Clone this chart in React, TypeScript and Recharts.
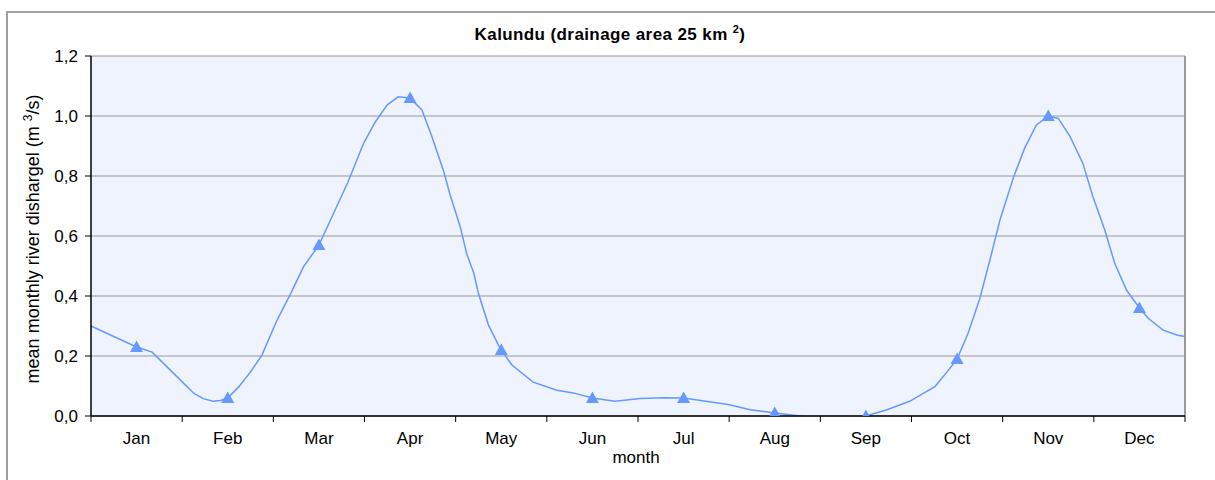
import React from "react";
import {
  ComposedChart,
  Line,
  Scatter,
  XAxis,
  YAxis,
  CartesianGrid,
  ReferenceLine,
} from "recharts";

// month labels and mean monthly discharge (m3/s) at mid-month
const months = ["Jan", "Feb", "Mar", "Apr", "May", "Jun", "Jul", "Aug", "Sep", "Oct", "Nov", "Dec"];
const monthlyMean = [0.23, 0.06, 0.57, 1.06, 0.22, 0.06, 0.06, 0.01, 0.0, 0.19, 1.0, 0.36];

// smoothed hydrograph, x in months from 1 Jan
const curveX = [
  0, 0.5, 0.67, 0.89, 1.02, 1.13, 1.23, 1.34, 1.42, 1.5, 1.62, 1.75, 1.875, 2.04, 2.19, 2.33,
  2.5, 2.66, 2.82, 2.99, 3.12, 3.25, 3.37, 3.5, 3.63, 3.74, 3.87, 3.94, 4.05, 4.12, 4.2, 4.25,
  4.36, 4.47, 4.5, 4.62, 4.85, 5.11, 5.29, 5.5, 5.75, 6.02, 6.28, 6.5, 6.99, 7.23, 7.5, 7.78,
  8.0, 8.38, 8.5, 8.73, 8.98, 9.26, 9.39, 9.5, 9.62, 9.75, 9.86, 9.97, 10.12, 10.24, 10.37, 10.5,
  10.61, 10.74, 10.88, 10.99, 11.12, 11.23, 11.36, 11.5, 11.6, 11.76, 11.92, 12.0,
];
const curveQ = [
  0.3, 0.23, 0.213, 0.147, 0.108, 0.075, 0.058, 0.049, 0.052, 0.06, 0.097, 0.147, 0.203, 0.319, 0.408, 0.497,
  0.57, 0.675, 0.781, 0.909, 0.981, 1.037, 1.064, 1.06, 1.02, 0.931, 0.814, 0.736, 0.631, 0.542, 0.475, 0.408,
  0.303, 0.236, 0.22, 0.169, 0.113, 0.086, 0.077, 0.06, 0.049, 0.058, 0.061, 0.06, 0.038, 0.021, 0.01, 0.0,
  -0.011, -0.011, 0.0, 0.021, 0.049, 0.099, 0.147, 0.19, 0.275, 0.392, 0.52, 0.653, 0.797, 0.892, 0.97, 1.0,
  0.992, 0.931, 0.842, 0.731, 0.62, 0.508, 0.419, 0.36, 0.325, 0.286, 0.269, 0.265,
];

const yTicks = [0, 0.2, 0.4, 0.6, 0.8, 1.0, 1.2];
const monthEdges = [0, 1, 2, 3, 4, 5, 6, 7, 8, 9, 10, 11, 12];

const curveData = curveX.map((x, i) => ({ x, q: curveQ[i] }));
const markerData = monthlyMean.map((q, i) => ({ x: i + 0.5, q }));

const W = 1215;
const H = 480;
const MARGIN = { top: 56, right: 30, bottom: 34, left: 41 };
const Y_AXIS_W = 50;
const PLOT_W = W - MARGIN.left - MARGIN.right - Y_AXIS_W;
const FONT = '"Liberation Sans", Arial, sans-serif';
const BLUE = "#6699ff";

function MonthTick(props: any) {
  const { x, y, payload } = props;
  const i = payload.value;
  if (i >= months.length) return null;
  return (
    <text
      x={x + PLOT_W / 24}
      y={y}
      dy="0.71em"
      textAnchor="middle"
      fill="#000"
      fontSize={17}
      fontFamily={FONT}
    >
      {months[i]}
    </text>
  );
}

function Triangle(props: any) {
  const { cx, cy } = props;
  return (
    <polygon
      points={`${cx},${cy - 6.5} ${cx - 6.5},${cy + 5} ${cx + 6.5},${cy + 5}`}
      fill={BLUE}
    />
  );
}

export default function App() {
  return (
    <div style={{ position: "absolute", left: 0, top: 0, width: W, height: H, background: "#fff", overflow: "hidden" }}>
      <div
        style={{
          position: "absolute",
          left: 6,
          top: 11,
          width: W,
          height: H,
          border: "2px solid #a0a0a0",
          boxSizing: "border-box",
        }}
      />
      <ComposedChart width={W} height={H} data={curveData} margin={MARGIN}>
        <CartesianGrid
          vertical={false}
          stroke="#999"
          fill="#eef3fe"
          horizontalValues={yTicks}
        />
        <XAxis
          dataKey="x"
          type="number"
          domain={[0, 12]}
          ticks={monthEdges}
          interval={0}
          height={30}
          tick={<MonthTick />}
          tickSize={6}
          tickMargin={10}
          stroke="#000"
          axisLine={{ stroke: "#000", strokeWidth: 1.5 }}
          tickLine={{ stroke: "#000" }}
        />
        <YAxis
          type="number"
          domain={[0, 1.2]}
          allowDataOverflow
          ticks={yTicks}
          width={Y_AXIS_W}
          tickSize={6}
          tickMargin={7}
          tickFormatter={(v: number) => v.toFixed(1).replace(".", ",")}
          tick={{ fill: "#000", fontSize: 17, fontFamily: FONT }}
          axisLine={{ stroke: "#000", strokeWidth: 1.5 }}
          tickLine={{ stroke: "#000" }}
        />
        <ReferenceLine x={12} stroke="#999" strokeWidth={2} />
        <Line
          type="linear"
          dataKey="q"
          stroke={BLUE}
          strokeWidth={1.5}
          dot={false}
          activeDot={false}
          isAnimationActive={false}
        />
        <Scatter data={markerData} dataKey="q" shape={<Triangle />} isAnimationActive={false} />
      </ComposedChart>
      <div
        style={{
          position: "absolute",
          left: 0,
          width: 1220,
          top: 25,
          textAlign: "center",
          fontFamily: FONT,
          fontWeight: "bold",
          fontSize: 17,
          letterSpacing: 0.4,
          color: "#000",
        }}
      >
        Kalundu (drainage area 25 km <sup style={{ fontSize: 11, verticalAlign: "7px", lineHeight: 0 }}>2</sup>)
      </div>
      <div
        style={{
          position: "absolute",
          left: 33,
          top: 239,
          transform: "translate(-50%, -50%) rotate(-90deg)",
          whiteSpace: "nowrap",
          fontFamily: FONT,
          fontSize: 18,
          color: "#000",
        }}
      >
        mean monthly river dishargel (m <sup style={{ fontSize: 12, verticalAlign: "7px", lineHeight: 0 }}>3</sup>/s)
      </div>
      <div
        style={{
          position: "absolute",
          left: 636,
          top: 458,
          transform: "translate(-50%, -50%)",
          fontFamily: FONT,
          fontSize: 17,
          color: "#000",
        }}
      >
        month
      </div>
    </div>
  );
}
